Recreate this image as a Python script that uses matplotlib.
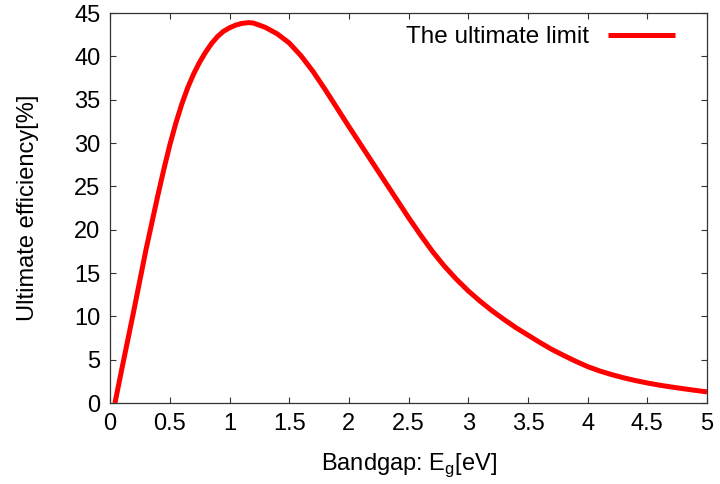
import numpy as np
import matplotlib.pyplot as plt

plt.rcParams['font.family'] = ['Liberation Sans', 'DejaVu Sans']

# values
bandgap = [0.04, 0.1, 0.2, 0.3, 0.4, 0.45, 0.5, 0.55, 0.6, 0.65, 0.7, 0.75, 0.8,
           0.85, 0.9, 0.95, 1.0, 1.05, 1.1, 1.16, 1.2, 1.3, 1.4, 1.5, 1.6, 1.7,
           1.8, 1.9, 2.0, 2.1, 2.2, 2.3, 2.4, 2.5, 2.6, 2.7, 2.8, 2.9, 3.0, 3.1,
           3.2, 3.3, 3.4, 3.5, 3.6, 3.7, 3.8, 3.9, 4.0, 4.1, 4.2, 4.3, 4.4, 4.5,
           4.6, 4.7, 4.8, 4.9, 5.0]
efficiency = [0.0, 4.1, 10.8, 17.7, 24.0, 27.0, 29.8, 32.3, 34.5, 36.4, 38.0, 39.35, 40.5,
              41.5, 42.3, 42.9, 43.3, 43.6, 43.8, 43.9, 43.85, 43.35, 42.6, 41.55, 40.05, 38.25,
              36.2, 34.05, 31.9, 29.8, 27.7, 25.6, 23.5, 21.4, 19.4, 17.5, 15.8, 14.3, 12.95, 11.75,
              10.65, 9.65, 8.7, 7.85, 7.0, 6.2, 5.5, 4.83, 4.22, 3.72, 3.3, 2.93, 2.61, 2.33,
              2.08, 1.87, 1.67, 1.48, 1.3]

xticks = np.arange(0, 5.01, 0.5)
xticklabels = ['0', '0.5', '1', '1.5', '2', '2.5', '3', '3.5', '4', '4.5', '5']
yticks = np.arange(0, 46, 5)

fig = plt.figure(figsize=(7.2, 4.84), dpi=100)
ax = fig.add_axes([0.153, 0.167, 0.829, 0.806])

ax.plot(bandgap, efficiency, color='red', lw=3.6, label='The ultimate limit',
        solid_capstyle='butt')

ax.set_xlim(0, 5)
ax.set_ylim(0, 45)
ax.set_xticks(xticks)
ax.set_xticklabels(xticklabels)
ax.set_yticks(yticks)
ax.tick_params(direction='in', length=4.5, width=0.8, color='#333333',
               top=True, right=True, labelsize=17, pad=7)
for s in ax.spines.values():
    s.set_color('#333333')
    s.set_linewidth(0.9)

ax.set_xlabel('Bandgap: E$_\\mathregular{g}$[eV]', fontsize=17, labelpad=12)
ax.set_ylabel('Ultimate efficiency[%]', fontsize=17, labelpad=25)

ax.legend(loc='upper right', frameon=False, markerfirst=False, fontsize=17.5,
          handlelength=2.75, borderaxespad=0.3, bbox_to_anchor=(0.975, 1.01))

fig.savefig('out.png', dpi=100)
